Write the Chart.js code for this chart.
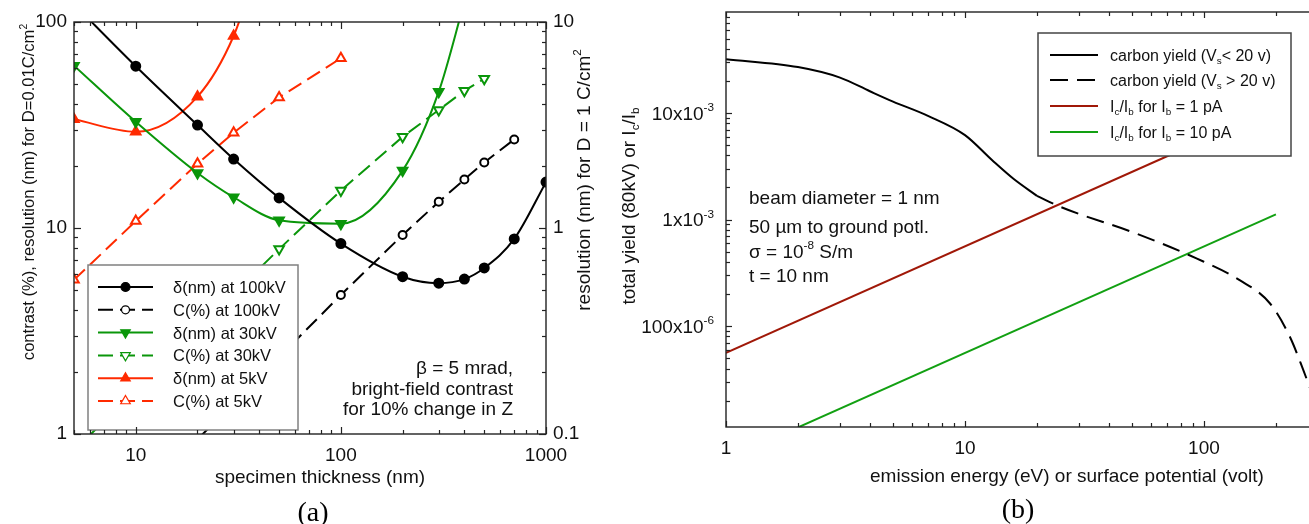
<!DOCTYPE html>
<html>
<head>
<meta charset="utf-8">
<script src="https://cdn.jsdelivr.net/npm/chart.js@4.4.1/dist/chart.umd.min.js"></script>
<style>
  html, body { margin: 0; padding: 0; background: #fff; width: 1309px; height: 524px; overflow: hidden; }
  #wrapA { position: absolute; left: 0; top: 0; }
  #wrapB { position: absolute; left: 610px; top: 0; }
</style>
</head>
<body>
<div id="wrapA"><canvas id="chartA" width="610" height="524"></canvas></div>
<div id="wrapB"><canvas id="chartB" width="720" height="524"></canvas></div>
<script>
// ---- panel (a): resolution / contrast vs specimen thickness ----
const thick100 = [5, 10, 20, 30, 50, 100, 200, 300, 400, 500, 700, 1000];
const delta100 = [122, 61, 31.6, 21.6, 14, 8.4, 5.8, 5.4, 5.65, 6.4, 8.85, 16.7];
const thickC100 = [10, 100, 200, 300, 400, 500, 700];
const contrast100 = [0.47, 4.73, 9.25, 13.4, 17.2, 20.8, 26.9];
const thick30 = [5, 10, 20, 30, 50, 100, 200, 300, 400];
const delta30 = [61.4, 32.8, 18.5, 14.1, 10.9, 10.5, 19, 45.9, 125];
const thickC30 = [5, 50, 100, 200, 300, 400, 500];
const contrast30 = [0.83, 7.9, 15.2, 27.7, 37.4, 46.4, 53];
const thick5 = [5, 10, 20, 30, 40];
const delta5 = [33.7, 29.3, 43.4, 85.5, 200];
const thickC5 = [5, 10, 20, 30, 50, 100];
const contrast5 = [5.6, 10.8, 20.5, 29, 43, 66.7];

// ---- panel (b): carbon yield and charging ratio vs energy ----
const energyLow = [1, 2, 3, 4, 5, 7, 10, 13, 16, 20];
const yieldLow = [0.032, 0.027, 0.0215, 0.016, 0.0128, 0.0094, 0.0062, 0.0036, 0.0024, 0.00167];
const energyHigh = [20, 25, 52, 93, 141, 189, 229, 260, 280];
const yieldHigh = [0.00167, 0.00132, 0.00074, 0.000432, 0.00027, 0.000163, 0.000079, 0.000039, 0.000025];
const energy1pA = [1, 200];
const ratio1pA = [0.000056, 0.0112];
const energy10pA = [2, 200];
const ratio10pA = [0.0000112, 0.00112];

const yTickLabelsB = ['10x10^{-3}', '1x10^{-3}', '100x10^{-6}'];
const yTickValuesB = [1e-2, 1e-3, 1e-4];

const FONT = "'Liberation Sans', Arial, sans-serif";
const SERIF = "'Liberation Serif', 'Times New Roman', serif";
const BLACK = '#000000';
const GREEN = '#0a960a';
const RED = '#ff2a00';
const DARKRED = '#a01808';
const GREEN_B = '#12a012';

function series(xs, ys) {
    return xs.map((x, i) => ({ x: x, y: ys[i] }));
}

// text with _{sub} and ^{sup} pieces
function richParts(str) {
    const parts = [];
    const re = /([_^])\{([^}]*)\}/g;
    let last = 0, m;
    while ((m = re.exec(str))) {
        if (m.index > last) parts.push({ t: str.slice(last, m.index), k: '' });
        parts.push({ t: m[2], k: m[1] });
        last = re.lastIndex;
    }
    if (last < str.length) parts.push({ t: str.slice(last), k: '' });
    return parts;
}

function drawRich(ctx, str, x, yCenter, size, align, family) {
    const parts = richParts(str);
    const fam = family || FONT;
    const fontOf = k => (k ? size * 0.62 : size) + 'px ' + fam;
    let w = 0;
    parts.forEach(p => { ctx.font = fontOf(p.k); p.w = ctx.measureText(p.t).width; w += p.w; });
    let cx = align === 'center' ? x - w / 2 : align === 'right' ? x - w : x;
    const base = yCenter + size * 0.36;
    ctx.textAlign = 'left';
    ctx.textBaseline = 'alphabetic';
    parts.forEach(p => {
        ctx.font = fontOf(p.k);
        const dy = p.k === '_' ? size * 0.22 : p.k === '^' ? -size * 0.45 : 0;
        ctx.fillText(p.t, cx, base + dy);
        cx += p.w;
    });
}

function drawRotated(ctx, str, x, y, size) {
    ctx.save();
    ctx.translate(x, y);
    ctx.rotate(-Math.PI / 2);
    drawRich(ctx, str, 0, 0, size, 'center');
    ctx.restore();
}

function marker(ctx, style, rot, r, x, y, fill, stroke) {
    ctx.beginPath();
    if (style === 'circle') {
        ctx.arc(x, y, r, 0, Math.PI * 2);
    } else {
        let a = (rot || 0) * Math.PI / 180;
        ctx.moveTo(x + Math.sin(a) * r, y - Math.cos(a) * r);
        a += 2 * Math.PI / 3;
        ctx.lineTo(x + Math.sin(a) * r, y - Math.cos(a) * r);
        a += 2 * Math.PI / 3;
        ctx.lineTo(x + Math.sin(a) * r, y - Math.cos(a) * r);
        ctx.closePath();
    }
    ctx.setLineDash([]);
    ctx.fillStyle = fill;
    ctx.fill();
    ctx.lineWidth = 1.2;
    ctx.strokeStyle = stroke;
    ctx.stroke();
}

// inward tick marks on one side of the plot box
function inwardTicks(chart, scale, side, majorLen, minorLen) {
    const ctx = chart.ctx;
    const a = chart.chartArea;
    ctx.save();
    ctx.strokeStyle = '#222';
    ctx.lineWidth = 1.2;
    ctx.setLineDash([]);
    scale.ticks.forEach(t => {
        const v = t.value;
        const e = Math.floor(Math.log10(v) + 1e-9);
        const sig = v / Math.pow(10, e);
        if (Math.abs(sig - Math.round(sig)) > 1e-6) return;
        const len = Math.abs(sig - 1) < 1e-6 ? majorLen : minorLen;
        const p = Math.round(scale.getPixelForValue(v)) + 0.5;
        ctx.beginPath();
        if (side === 'bottom') { ctx.moveTo(p, a.bottom); ctx.lineTo(p, a.bottom - len); }
        if (side === 'top') { ctx.moveTo(p, a.top); ctx.lineTo(p, a.top + len); }
        if (side === 'left') { ctx.moveTo(a.left, p); ctx.lineTo(a.left + len, p); }
        if (side === 'right') { ctx.moveTo(a.right, p); ctx.lineTo(a.right - len, p); }
        ctx.stroke();
    });
    ctx.restore();
}

function frame(chart) {
    const ctx = chart.ctx;
    const a = chart.chartArea;
    ctx.save();
    ctx.strokeStyle = '#222';
    ctx.lineWidth = 1.4;
    ctx.setLineDash([]);
    ctx.strokeRect(a.left, a.top, a.right - a.left, a.bottom - a.top);
    ctx.restore();
}

function powerLabel(value) {
    const l = Math.log10(value);
    return Math.abs(l - Math.round(l)) < 1e-9 ? String(+value.toPrecision(3)) : '';
}

function logAxis(min, max, position, size, padding) {
    return {
        type: 'logarithmic',
        min: min,
        max: max,
        position: position,
        grid: { display: false, drawTicks: false },
        border: { display: false },
        ticks: {
            autoSkip: false,
            maxRotation: 0,
            minRotation: 0,
            padding: padding,
            color: '#111',
            font: { family: FONT, size: 19 },
            callback: powerLabel
        },
        afterFit: scale => {
            if (position === 'left' || position === 'right') scale.width = size;
            else scale.height = size;
        }
    };
}

// ---------------- chart (a) ----------------
const legendA = {
    id: 'legendA',
    afterDatasetsDraw(chart) {
        const ctx = chart.ctx;
        ctx.save();
        ctx.fillStyle = '#fff';
        ctx.fillRect(88, 265, 210, 165);
        ctx.strokeStyle = '#808080';
        ctx.lineWidth = 1.5;
        ctx.strokeRect(88, 265, 210, 165);
        chart.data.datasets.forEach((ds, i) => {
            const y = 287 + i * 22.8;
            ctx.beginPath();
            ctx.setLineDash(ds.borderDash || []);
            ctx.strokeStyle = ds.borderColor;
            ctx.lineWidth = ds.borderWidth;
            ctx.moveTo(98, y);
            ctx.lineTo(153, y);
            ctx.stroke();
            marker(ctx, ds.pointStyle, ds.pointRotation, ds.pointRadius, 125.5, y, ds.pointBackgroundColor, ds.borderColor);
            ctx.fillStyle = '#111';
            drawRich(ctx, ds.label, 173, y, 16.5, 'left');
        });
        ctx.restore();
    },
    afterDraw(chart) {
        const ctx = chart.ctx;
        frame(chart);
        inwardTicks(chart, chart.scales.x, 'bottom', 7, 4);
        inwardTicks(chart, chart.scales.x, 'top', 7, 4);
        inwardTicks(chart, chart.scales.y, 'left', 7, 4);
        inwardTicks(chart, chart.scales.y2, 'right', 7, 4);
        ctx.save();
        ctx.fillStyle = '#111';
        drawRotated(ctx, 'contrast (%), resolution (nm) for D=0.01C/cm^{2}', 28, 192, 16.6);
        drawRotated(ctx, 'resolution (nm) for D = 1 C/cm^{2}', 583, 180, 19);
        drawRich(ctx, 'specimen thickness (nm)', 320, 476, 19, 'center');
        drawRich(ctx, 'β = 5 mrad,', 513, 367, 19, 'right');
        drawRich(ctx, 'bright-field contrast', 513, 388, 19, 'right');
        drawRich(ctx, 'for 10% change in Z', 513, 408, 19, 'right');
        ctx.fillStyle = '#000';
        drawRich(ctx, '(a)', 313, 511, 28, 'center', SERIF);
        ctx.restore();
    }
};

new Chart(document.getElementById('chartA'), {
    type: 'line',
    data: {
        datasets: [
            { label: 'δ(nm) at 100kV', data: series(thick100, delta100), borderColor: BLACK, borderWidth: 2, pointStyle: 'circle', pointRadius: 4.5, pointBackgroundColor: BLACK, cubicInterpolationMode: 'monotone' },
            { label: 'C(%) at 100kV', data: series(thickC100, contrast100), borderColor: BLACK, borderWidth: 2, borderDash: [15, 7], pointStyle: 'circle', pointRadius: 4, pointBackgroundColor: '#fff', tension: 0 },
            { label: 'δ(nm) at 30kV', data: series(thick30, delta30), borderColor: GREEN, borderWidth: 2, pointStyle: 'triangle', pointRotation: 180, pointRadius: 5.5, pointBackgroundColor: GREEN, cubicInterpolationMode: 'monotone' },
            { label: 'C(%) at 30kV', data: series(thickC30, contrast30), borderColor: GREEN, borderWidth: 2, borderDash: [15, 7], pointStyle: 'triangle', pointRotation: 180, pointRadius: 5.5, pointBackgroundColor: '#fff', tension: 0 },
            { label: 'δ(nm) at 5kV', data: series(thick5, delta5), borderColor: RED, borderWidth: 2, pointStyle: 'triangle', pointRadius: 5.5, pointBackgroundColor: RED, cubicInterpolationMode: 'monotone' },
            { label: 'C(%) at 5kV', data: series(thickC5, contrast5), borderColor: RED, borderWidth: 2, borderDash: [15, 7], pointStyle: 'triangle', pointRadius: 5.5, pointBackgroundColor: '#fff', tension: 0 }
        ]
    },
    options: {
        responsive: false,
        animation: false,
        devicePixelRatio: 1,
        layout: { padding: { top: 22, left: 0, right: 0, bottom: 0 } },
        plugins: { legend: { display: false }, tooltip: { enabled: false } },
        scales: {
            x: logAxis(5, 1000, 'bottom', 90, 10),
            y: logAxis(1, 100, 'left', 74, 7),
            y2: logAxis(0.1, 10, 'right', 64, 7)
        }
    },
    plugins: [legendA]
});

// ---------------- chart (b) ----------------
const legendB = {
    id: 'legendB',
    afterDatasetsDraw(chart) {
        const ctx = chart.ctx;
        ctx.save();
        ctx.fillStyle = '#fff';
        ctx.fillRect(428, 33, 253, 123);
        ctx.strokeStyle = '#444';
        ctx.lineWidth = 1.5;
        ctx.strokeRect(428, 33, 253, 123);
        const ys = [55, 80, 106, 132];
        chart.data.datasets.forEach((ds, i) => {
            const y = ys[i];
            ctx.beginPath();
            ctx.setLineDash(ds.borderDash || []);
            ctx.strokeStyle = ds.borderColor;
            ctx.lineWidth = ds.borderWidth;
            ctx.moveTo(440, y);
            ctx.lineTo(488, y);
            ctx.stroke();
            ctx.fillStyle = '#111';
            drawRich(ctx, ds.label, 500, y, 16, 'left');
        });
        ctx.restore();
    },
    afterDraw(chart) {
        const ctx = chart.ctx;
        const ys = chart.scales.y;
        frame(chart);
        inwardTicks(chart, chart.scales.x, 'bottom', 6, 4);
        inwardTicks(chart, chart.scales.x, 'top', 6, 4);
        inwardTicks(chart, ys, 'left', 6, 4);
        ctx.save();
        ctx.fillStyle = '#111';
        yTickValuesB.forEach((v, i) => {
            drawRich(ctx, yTickLabelsB[i], ys.left + ys.width - 12, ys.getPixelForValue(v), 19, 'right');
        });
        drawRotated(ctx, 'total yield (80kV) or I_{c}/I_{b}', 18, 206, 19);
        drawRich(ctx, 'emission energy (eV) or surface potential (volt)', 457, 475, 19, 'center');
        drawRich(ctx, 'beam diameter = 1 nm', 139, 197, 19, 'left');
        drawRich(ctx, '50 µm to ground potl.', 139, 226, 19, 'left');
        drawRich(ctx, 'σ = 10^{-8} S/m', 139, 251, 19, 'left');
        drawRich(ctx, 't = 10 nm', 139, 275, 19, 'left');
        ctx.fillStyle = '#000';
        drawRich(ctx, '(b)', 408, 508, 28, 'center', SERIF);
        ctx.restore();
    }
};

const axisBx = logAxis(1, 300, 'bottom', 97, 10);
const axisBy = logAxis(0.0000113, 0.0887, 'left', 116, 7);
axisBy.ticks.display = false;

new Chart(document.getElementById('chartB'), {
    type: 'line',
    data: {
        datasets: [
            { label: 'carbon yield (V_{s}< 20 v)', data: series(energyLow, yieldLow), borderColor: BLACK, borderWidth: 2, pointRadius: 0, cubicInterpolationMode: 'monotone' },
            { label: 'carbon yield (V_{s} > 20 v)', data: series(energyHigh, yieldHigh), borderColor: BLACK, borderWidth: 2, borderDash: [18, 9], pointRadius: 0, cubicInterpolationMode: 'monotone' },
            { label: 'I_{c}/I_{b} for I_{b} = 1 pA', data: series(energy1pA, ratio1pA), borderColor: DARKRED, borderWidth: 2, pointRadius: 0 },
            { label: 'I_{c}/I_{b} for I_{b} = 10 pA', data: series(energy10pA, ratio10pA), borderColor: GREEN_B, borderWidth: 2, pointRadius: 0 }
        ]
    },
    options: {
        responsive: false,
        animation: false,
        devicePixelRatio: 1,
        layout: { padding: { top: 12, left: 0, right: 12, bottom: 0 } },
        plugins: { legend: { display: false }, tooltip: { enabled: false } },
        scales: {
            x: axisBx,
            y: axisBy
        }
    },
    plugins: [legendB]
});
</script>
</body>
</html>
